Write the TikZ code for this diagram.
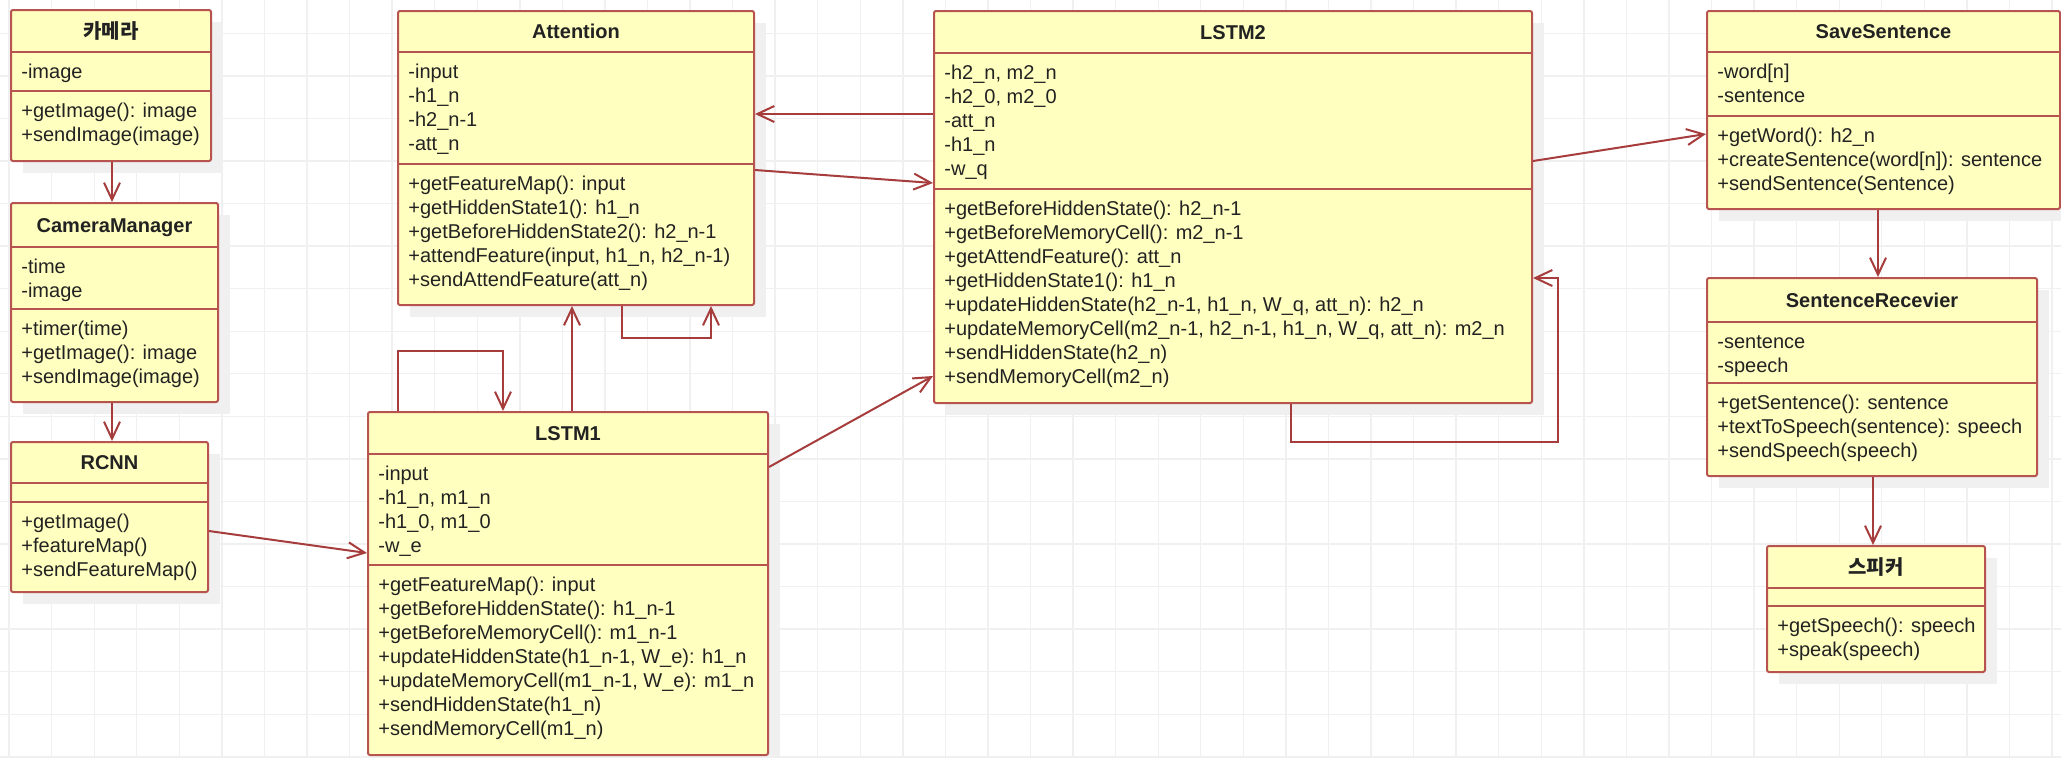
\documentclass[tikz,border=0pt]{standalone}
\usepackage{fontspec}
\setmainfont{Liberation Sans}
\newfontfamily\krfont{Noto Sans CJK KR}
\usetikzlibrary{arrows.meta,fit,calc}
\definecolor{boxfill}{HTML}{FFFFC0}
\definecolor{boxline}{HTML}{B85450}
\definecolor{conncol}{HTML}{A63C3C}
\definecolor{gridc}{HTML}{F0F0F0}
\definecolor{shadowc}{HTML}{F0F0F0}
\definecolor{txt}{HTML}{222222}
\tikzset{
  classnode/.style={draw=boxline, fill=boxfill, line width=1pt, inner sep=0pt, rounded corners=1pt},
  divline/.style={draw=boxline, line width=1pt},
  titletext/.style={font=\fontsize{10}{12}\selectfont\bfseries, text=txt, inner sep=0pt, text height=7.2pt, text depth=0pt},
  sectext/.style={font=\fontsize{10}{12}\selectfont, text=txt, inner sep=0pt, align=left, anchor=north west},
  conn/.style={draw=conncol, line width=1pt, -{Straight Barb[length=8.5pt,width=8pt]}},
  gridline/.style={draw=gridc, line width=0.7pt},
}
% name, l, t, r, b (px)
\newcommand\ubox[5]{%
  \fill[shadowc] (#2+12,#3+12) rectangle (#4+12,#5+12);
  \node[classnode, fit={(#2,#3) (#4,#5)}] (#1) {};
}
% name, l, t, r, div, text
\newcommand\utitle[6]{%
  \draw[divline] (#2,#5) -- (#4,#5);
  \node[titletext] (#1-t) at ({(#2+#4)/2},{(#3+#5)/2}) {#6};
}
% name, l, r, div, text
\newcommand\usec[5]{%
  \draw[divline] (#2,#4) -- (#3,#4);
  \node[sectext] (#1) at (#2+10,#4+9.4) {#5};
}
% l, r, div (empty section divider)
\newcommand\udiv[3]{%
  \draw[divline] (#1,#3) -- (#2,#3);
}
\begin{document}
\begin{tikzpicture}[x=0.5pt,y=-0.5pt]
\useasboundingbox (0,0) rectangle (2061,757);
\fill[white] (0,0) rectangle (2061,757);
\foreach \i in {0,...,48} \draw[gridline] ({9.1+42.56*\i},0) -- ({9.1+42.56*\i},757);
\foreach \i in {0,...,17} \draw[gridline] (0,{33.3+42.56*\i}) -- (2061,{33.3+42.56*\i});

% 카메라
\ubox{cam}{11}{10}{211}{161}
\utitle{cam}{11}{10}{211}{52}{\krfont\bfseries 카메라}
\usec{cam-a}{11}{211}{52}{\strut-image}
\usec{cam-m}{11}{211}{91}{\strut+getImage(): image\\\strut+sendImage(image)}

% CameraManager
\ubox{cmgr}{11}{203}{218}{402}
\utitle{cmgr}{11}{203}{218}{247}{CameraManager}
\usec{cmgr-a}{11}{218}{247}{\strut-time\\\strut-image}
\usec{cmgr-m}{11}{218}{309}{\strut+timer(time)\\\strut+getImage(): image\\\strut+sendImage(image)}

% RCNN
\ubox{rcnn}{11}{442}{208}{592}
\utitle{rcnn}{11}{442}{208}{483}{RCNN}
\udiv{11}{208}{502}
\usec{rcnn-m}{11}{208}{502}{\strut+getImage()\\\strut+featureMap()\\\strut+sendFeatureMap()}

% Attention
\ubox{att}{398}{11}{754}{305}
\utitle{att}{398}{11}{754}{52}{Attention}
\usec{att-a}{398}{754}{52}{\strut-input\\\strut-h1\_n\\\strut-h2\_n-1\\\strut-att\_n}
\usec{att-m}{398}{754}{164}{\strut+getFeatureMap(): input\\\strut+getHiddenState1(): h1\_n\\\strut+getBeforeHiddenState2(): h2\_n-1\\\strut+attendFeature(input, h1\_n, h2\_n-1)\\\strut+sendAttendFeature(att\_n)}

% LSTM1
\ubox{lstm1}{368}{412}{768}{755}
\utitle{lstm1}{368}{412}{768}{454}{LSTM1}
\usec{lstm1-a}{368}{768}{454}{\strut-input\\\strut-h1\_n, m1\_n\\\strut-h1\_0, m1\_0\\\strut-w\_e}
\usec{lstm1-m}{368}{768}{565}{\strut+getFeatureMap(): input\\\strut+getBeforeHiddenState(): h1\_n-1\\\strut+getBeforeMemoryCell(): m1\_n-1\\\strut+updateHiddenState(h1\_n-1, W\_e): h1\_n\\\strut+updateMemoryCell(m1\_n-1, W\_e): m1\_n\\\strut+sendHiddenState(h1\_n)\\\strut+sendMemoryCell(m1\_n)}

% LSTM2
\ubox{lstm2}{934}{11}{1532}{403}
\utitle{lstm2}{934}{11}{1532}{53}{LSTM2}
\usec{lstm2-a}{934}{1532}{53}{\strut-h2\_n, m2\_n\\\strut-h2\_0, m2\_0\\\strut-att\_n\\\strut-h1\_n\\\strut-w\_q}
\usec{lstm2-m}{934}{1532}{189}{\strut+getBeforeHiddenState(): h2\_n-1\\\strut+getBeforeMemoryCell(): m2\_n-1\\\strut+getAttendFeature(): att\_n\\\strut+getHiddenState1(): h1\_n\\\strut+updateHiddenState(h2\_n-1, h1\_n, W\_q, att\_n): h2\_n\\\strut+updateMemoryCell(m2\_n-1, h2\_n-1, h1\_n, W\_q, att\_n): m2\_n\\\strut+sendHiddenState(h2\_n)\\\strut+sendMemoryCell(m2\_n)}

% SaveSentence
\ubox{save}{1707}{11}{2060}{209}
\utitle{save}{1707}{11}{2060}{52}{SaveSentence}
\usec{save-a}{1707}{2060}{52}{\strut-word[n]\\\strut-sentence}
\usec{save-m}{1707}{2060}{116}{\strut+getWord(): h2\_n\\\strut+createSentence(word[n]): sentence\\\strut+sendSentence(Sentence)}

% SentenceRecevier
\ubox{recv}{1707}{278}{2037}{476}
\utitle{recv}{1707}{278}{2037}{322}{SentenceRecevier}
\usec{recv-a}{1707}{2037}{322}{\strut-sentence\\\strut-speech}
\usec{recv-m}{1707}{2037}{383}{\strut+getSentence(): sentence\\\strut+textToSpeech(sentence): speech\\\strut+sendSpeech(speech)}

% 스피커
\ubox{spk}{1767}{546}{1985}{672}
\utitle{spk}{1767}{546}{1985}{588}{\krfont\bfseries 스피커}
\udiv{1767}{1985}{606}
\usec{spk-m}{1767}{1985}{606}{\strut+getSpeech(): speech\\\strut+speak(speech)}

% connectors
\coordinate (l2loop) at (1558,278);
\draw[conn] (cam.south -| 112,0) -- (cmgr.north -| 112,0);
\draw[conn] (cmgr.south -| 112,0) -- (rcnn.north -| 112,0);
\draw[conn] (rcnn.east |- 0,531) -- (lstm1.west |- 0,553);
\draw[conn] (lstm1.north -| 398,0) -- ++(0,30pt) -| (lstm1.north -| 503,0);
\draw[conn] (lstm1.north -| 572,0) -- (att.south -| 572,0);
\draw[conn] (att.south -| 622,0) -- ++(0,-16pt) -| (att.south -| 711,0);
\draw[conn] (lstm2.west |- 0,114) -- (att.east |- 0,114);
\draw[conn] (att.east |- 0,170) -- (lstm2.west |- 0,183);
\draw[conn] (lstm1.east |- 0,467) -- (lstm2.west |- 0,376);
\draw[conn] (lstm2.south -| 1291,0) -- ++(0,-19pt) -| (l2loop) -- (lstm2.east |- l2loop);
\draw[conn] (lstm2.east |- 0,161) -- (save.west |- 0,134);
\draw[conn] (save.south -| 1878,0) -- (recv.north -| 1878,0);
\draw[conn] (recv.south -| 1873,0) -- (spk.north -| 1873,0);
\end{tikzpicture}
\end{document}
